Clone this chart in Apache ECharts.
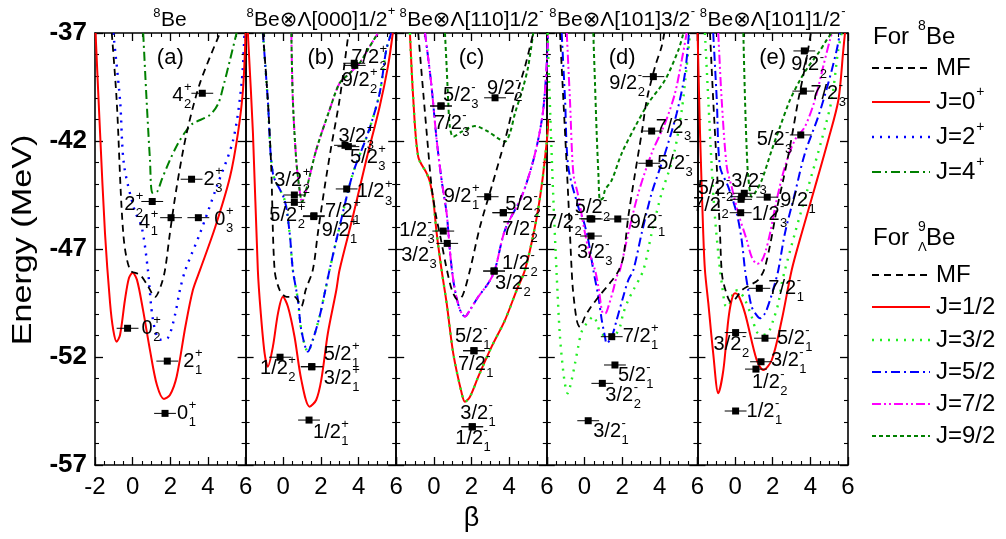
<!DOCTYPE html>
<html><head><meta charset="utf-8">
<script src="https://cdn.jsdelivr.net/npm/echarts@6/dist/echarts.min.js"></script>
<style>html,body{margin:0;padding:0;background:#fff}#c{width:1006px;height:539px}</style>
</head><body><div id="c"></div>
<script>
// ---------------- DATA (beta, energy in MeV) ----------------
const xTicks = [-2, 0, 2, 4, 6];
const yTicks = [-57, -52, -47, -42, -37];
const yName = 'Energy (MeV)';
const panelTitles = [
  ['8', 'Be', ''],
  ['8', 'Be\u2297\u039B[000]1/2', '+'],
  ['8', 'Be\u2297\u039B[110]1/2', '-'],
  ['8', 'Be\u2297\u039B[101]3/2', '-'],
  ['8', 'Be\u2297\u039B[101]1/2', '-']
];
const panelTags = ['(a)', '(b)', '(c)', '(d)', '(e)'];

// panel (a) 8Be
const aMF = [[-1.11,-37],[-0.85,-40.1],[-0.5,-46.26],[-0.14,-47.97],[0.4,-48.2],[0.8,-48.7],[1.19,-49.22],[1.5,-48.7],[1.72,-47.97],[1.98,-46.26],[2.34,-44.13],[2.87,-41.63],[3.58,-39.31],[4.64,-37]];
const aJ0 = [[-1.97,-37],[-1.73,-41.63],[-1.47,-46.26],[-1.2,-49.5],[-1.03,-50.75],[-0.85,-51.29],[-0.67,-50.98],[-0.41,-49.36],[-0.2,-48.35],[0,-48.1],[0.23,-48.43],[0.55,-49.82],[0.92,-51.68],[1.29,-53.3],[1.66,-53.94],[1.98,-53.76],[2.34,-52.9],[2.8,-50.6],[3.2,-48.9],[3.58,-47.97],[4.37,-46.03],[5.17,-43.67],[5.6,-41.6],[5.86,-39.64],[6.0,-37]];
const aJ2 = [[-1.03,-37],[-0.67,-40.1],[-0.46,-43.1],[0.1,-45.2],[0.48,-45.98],[0.81,-47.97],[1.08,-50.29],[1.45,-51.2],[1.88,-51.1],[2.25,-50.05],[2.51,-48.9],[2.8,-47.97],[3.58,-46.27],[4.46,-44.13],[5.34,-41.95],[5.79,-39.31],[5.94,-37]];
const aJ4 = [[0.56,-37],[0.74,-40.1],[0.92,-42.88],[1.05,-44.4],[1.3,-44.35],[1.54,-43.8],[1.98,-42.88],[2.42,-42.1],[2.87,-41.49],[3.22,-41.18],[4.1,-40.8],[4.55,-40.26],[4.81,-39.49],[5.17,-38.25],[5.52,-37]];
// levels: [beta, E, J, index, parity]
const aLevels = [[3.7,-39.79,'4','2','+'],[3.13,-43.77,'2','3','+'],[1.04,-44.8,'2','2','+'],[2.04,-45.55,'4','1','+'],[3.49,-45.55,'0','3','+'],[-0.27,-50.67,'0','2','+'],[1.84,-52.19,'2','1','+'],[1.72,-54.61,'0','1','+']];

// panel (b) 8Be x Lambda[000]1/2+
const bMF = [[-1.08,-37],[-0.82,-40.1],[-0.64,-43.19],[-0.46,-47.97],[-0.19,-48.9],[0.18,-49.22],[0.6,-49.22],[0.96,-49.64],[1.19,-48.9],[1.57,-47.97],[1.84,-46.26],[2.2,-44.13],[2.55,-42.26],[2.99,-40.1],[3.35,-37.79],[3.47,-37]];
const bJ1 = [[-1.88,-37],[-1.61,-41.63],[-1.35,-47.97],[-1.2,-49.9],[-0.99,-51.83],[-0.82,-52.45],[-0.55,-51.52],[-0.28,-49.98],[-0.02,-49.21],[0.25,-49.67],[0.6,-51.06],[0.96,-53.06],[1.4,-54.3],[1.75,-53.99],[2.02,-53.06],[2.37,-50.9],[2.82,-48.9],[2.99,-47.97],[3.7,-45.5],[4.41,-42.88],[5.12,-40.41],[5.56,-38.56],[5.82,-37]];
const bJ3J5 = [[-1.08,-37],[-0.82,-40.1],[-0.55,-43.5],[0.07,-44.73],[0.34,-46.26],[0.51,-47.97],[0.78,-49.36],[0.96,-50.75],[1.31,-51.75],[1.57,-51.21],[1.93,-50.13],[2.2,-49.05],[2.46,-47.97],[2.99,-45.97],[3.7,-43.5],[4.5,-41.64],[5.12,-39.79],[5.47,-37.79],[5.74,-37]];
const bJ7J9 = [[0.43,-37],[0.51,-40.1],[0.69,-42.88],[0.87,-44.27],[1.0,-44.82],[1.22,-44.27],[1.75,-42.42],[2.46,-40.56],[2.99,-39.33],[3.52,-38.87],[4.05,-38.4],[4.59,-37.63],[5.03,-37]];
const bLevels = [[3.77,-38.4,'7/2','2','+'],[3.8,-38.5,'9/2','2','+'],[3.46,-42.26,'3/2','3','+'],[3.28,-42.2,'5/2','3','+'],[3.37,-44.22,'1/2','3','+'],[0.59,-44.5,'3/2','2','+'],[0.59,-44.84,'5/2','2','+'],[1.63,-45.46,'7/2','1','+'],[1.62,-45.5,'9/2','1','+'],[1.51,-52.45,'5/2','1','+'],[1.52,-52.45,'3/2','1','+'],[-0.17,-52.01,'1/2','2','+'],[1.37,-54.92,'1/2','1','+']];

// panel (c) 8Be x Lambda[110]1/2-
const cMF = [[-0.83,-37],[-0.56,-39.79],[-0.3,-42.42],[-0.12,-44.12],[0.11,-45.43],[0.38,-46.58],[0.64,-47.74],[0.96,-48.9],[1.28,-49.36],[1.54,-49.13],[1.92,-47.97],[2.45,-45.97],[3.07,-44.12],[3.78,-41.95],[4.31,-40.1],[4.84,-38.56],[5.28,-37]];
const cJ1J3 = [[-1.27,-37],[-1.09,-40.1],[-0.83,-42.73],[-0.38,-43.5],[-0.21,-43.89],[-0.03,-44.73],[0.15,-46.27],[0.41,-47.97],[0.68,-49.51],[1.03,-51.83],[1.48,-53.68],[1.65,-54.07],[1.92,-53.84],[2.36,-52.91],[3.07,-51.52],[3.78,-50.29],[4.4,-48.9],[4.84,-47.97],[5.37,-45.97],[5.72,-44.12],[5.99,-42.1],[6.1,-41.0]];
const cJ5J7 = [[-0.47,-37],[-0.15,-39.25],[0.15,-41.95],[0.41,-43.8],[0.68,-45.35],[0.85,-47.05],[0.96,-47.97],[1.12,-48.9],[1.39,-49.82],[1.65,-50.13],[1.92,-49.82],[2.36,-49.21],[2.89,-48.59],[3.24,-47.97],[3.78,-46.12],[4.66,-44.58],[5.19,-43.19],[5.54,-41.95],[5.81,-40.56],[5.99,-38.56],[6.07,-37]];
const cJ9 = [[0.59,-37],[0.68,-38.56],[0.76,-40.1],[0.85,-41.34],[1.03,-41.8],[1.48,-41.57],[2.18,-41.31],[2.89,-41.57],[3.42,-41.88],[3.78,-42.03],[4.04,-41.64],[4.31,-40.72],[4.75,-39.49],[5.01,-38.56],[5.28,-37]];
const cLevels = [[0.38,-40.38,'5/2','3','-'],[0.38,-40.38,'7/2','3','-'],[3.25,-40.0,'9/2','2','-'],[2.86,-44.58,'9/2','1','+'],[3.69,-45.32,'5/2','2','-'],[3.69,-45.32,'7/2','2','-'],[0.5,-46.17,'1/2','3','-'],[0.71,-46.74,'3/2','3','-'],[3.2,-48.02,'1/2','2','-'],[3.2,-48.02,'3/2','2','-'],[2.13,-51.71,'5/2','1','-'],[2.13,-51.71,'7/2','1','-'],[2.04,-55.23,'3/2','1','-'],[2.04,-55.23,'1/2','1','-']];

// panel (d) 8Be x Lambda[101]3/2-
const dMF = [[-1.3,-37],[-1.12,-40.1],[-0.94,-43.19],[-0.77,-46.27],[-0.68,-47.97],[-0.61,-48.9],[-0.41,-50.29],[-0.24,-50.61],[0.03,-50.13],[0.29,-49.75],[0.83,-49.13],[1.36,-48.57],[1.78,-48.06],[2.06,-47.4],[2.33,-45.5],[2.69,-43.49],[3.04,-41.64],[3.31,-40.1],[3.75,-38.56],[4.1,-37.63],[4.24,-37]];
const dJ3 = [[-1.96,-37],[-1.88,-39.18],[-1.67,-44.27],[-1.47,-48.28],[-1.3,-51.06],[-1.07,-53.06],[-0.89,-53.68],[-0.68,-53.06],[-0.5,-52.29],[-0.33,-51.52],[-0.15,-50.83],[0.12,-50.44],[0.47,-50.13],[0.83,-50.83],[1.09,-51.03],[1.41,-51.07],[1.71,-50.9],[1.89,-50.6],[2.06,-49.98],[2.33,-49.36],[2.6,-48.9],[3.13,-47.97],[3.57,-46.27],[4.1,-44.42],[4.72,-42.73],[5.17,-40.56],[5.43,-38.56],[5.61,-37]];
const dJ5 = [[-1.21,-37],[-1.03,-40.1],[-0.86,-43.19],[-0.33,-45.04],[-0.06,-45.66],[0.2,-46.58],[0.47,-47.97],[0.74,-49.21],[0.92,-50.29],[1.09,-51.06],[1.18,-51.37],[1.45,-51.06],[1.71,-50.29],[2.06,-49.21],[2.33,-48.44],[2.6,-47.97],[3.04,-46.27],[3.57,-44.42],[4.28,-42.57],[4.9,-40.72],[5.34,-38.87],[5.55,-37]];
const dJ7 = [[-0.94,-37],[-0.77,-40.1],[-0.59,-43.5],[-0.34,-44.5],[0.03,-46.27],[0.29,-47.28],[0.56,-47.97],[0.74,-48.74],[1.0,-49.98],[1.14,-49.96],[1.27,-49.67],[1.53,-48.9],[1.71,-48.28],[1.89,-47.97],[2.33,-46.27],[2.86,-44.42],[3.57,-42.57],[4.28,-41.18],[4.81,-39.79],[5.17,-38.25],[5.43,-37]];
const dJ9 = [[0.47,-37],[0.56,-39.33],[0.65,-41.64],[0.74,-43.5],[0.83,-44.73],[0.99,-44.64],[1.09,-44.27],[1.45,-43.81],[1.98,-42.57],[2.69,-41.34],[3.39,-40.25],[4.28,-39.18],[4.99,-37.79],[5.26,-37]];
const dLevels = [[3.66,-39.02,'9/2','2','-'],[3.57,-41.54,'7/2','3','-'],[3.44,-43.03,'5/2','3','-'],[0.39,-45.61,'5/2','2','-'],[0.3,-45.6,'7/2','2','-'],[1.77,-45.61,'9/2','1','-'],[0.35,-46.4,'3/2','3','-'],[1.45,-51.06,'7/2','1','+'],[1.62,-52.37,'5/2','1','-'],[0.95,-53.22,'3/2','2','-'],[0.2,-54.95,'3/2','1','-']];

// panel (e) 8Be x Lambda[101]1/2-
const eMF = [[-1.33,-37],[-1.16,-40.1],[-0.97,-43.19],[-0.8,-46.27],[-0.69,-48.2],[-0.48,-48.99],[-0.22,-49.45],[0.05,-49.27],[0.37,-48.9],[0.79,-48.67],[1.22,-48.44],[1.54,-47.97],[1.86,-46.82],[2.21,-45.19],[2.56,-43.8],[2.92,-42.26],[3.36,-40.1],[3.72,-38.56],[4.03,-37]];
const eJ1 = [[-1.99,-37],[-1.86,-41.64],[-1.69,-46.27],[-1.6,-47.97],[-1.42,-49.51],[-1.16,-51.83],[-0.89,-53.68],[-0.62,-52.6],[-0.36,-50.29],[-0.18,-49.36],[0.0,-49.05],[0.17,-49.13],[0.53,-49.98],[1.15,-52.14],[1.5,-52.6],[1.95,-52.14],[2.48,-50.29],[3.01,-47.97],[3.54,-46.27],[4.25,-44.12],[4.95,-41.95],[5.49,-40.1],[5.75,-37.79],[5.84,-37]];
const eJ3 = [[-1.6,-37],[-1.42,-40.1],[-1.24,-43.19],[-1.07,-45.5],[-0.8,-47.97],[-0.69,-48.67],[-0.53,-49.59],[-0.37,-49.69],[-0.22,-49.36],[0.0,-48.9],[0.26,-48.99],[0.53,-49.36],[0.88,-50.13],[1.15,-50.83],[1.42,-50.98],[1.75,-50.89],[2.03,-50.29],[2.3,-49.51],[2.48,-48.59],[2.65,-47.97],[3.18,-46.27],[3.89,-44.12],[4.6,-41.95],[5.13,-40.1],[5.48,-37.79],[5.66,-37]];
const eJ5 = [[-1.16,-37],[-0.97,-40.1],[-0.8,-43.19],[-0.36,-44.12],[0.09,-45.35],[0.35,-46.58],[0.53,-47.97],[0.7,-48.9],[0.88,-49.67],[1.06,-49.96],[1.33,-50.21],[1.59,-49.98],[1.86,-49.36],[2.12,-48.59],[2.3,-47.97],[2.65,-46.27],[3.18,-44.42],[3.71,-42.57],[4.42,-40.87],[4.95,-39.33],[5.4,-37.79],[5.57,-37]];
const eJ7 = [[-0.89,-37],[-0.71,-40.1],[-0.44,-43.19],[-0.18,-44.12],[0.17,-45.35],[0.62,-46.58],[0.88,-47.36],[1.17,-47.69],[1.38,-47.6],[1.59,-47.2],[1.86,-46.27],[2.21,-44.73],[2.65,-43.19],[3.18,-41.95],[3.71,-41.34],[4.24,-40.1],[4.68,-38.56],[5.04,-37.32],[5.15,-37]];
const eJ9 = [[0.44,-37],[0.53,-40.1],[0.62,-42.42],[0.7,-43.65],[0.88,-44.58],[1.06,-44.41],[1.42,-43.81],[1.95,-42.42],[2.39,-41.34],[2.92,-40.1],[3.45,-39.18],[3.89,-38.56],[4.42,-37.94],[4.87,-37.32],[5.13,-37]];
const eLevels = [[3.68,-37.83,'9/2','2','-'],[3.63,-39.69,'7/2','3','-'],[3.49,-41.72,'5/2','3','-'],[0.35,-44.58,'5/2','2','-'],[0.49,-44.42,'3/2','3','-'],[0.32,-44.7,'7/2','2','-'],[1.71,-44.6,'9/2','1','-'],[0.3,-45.32,'1/2','3','-'],[1.29,-48.82,'7/2','1','-'],[0.03,-50.87,'3/2','2','-'],[1.59,-51.13,'5/2','1','-'],[1.38,-52.22,'3/2','1','-'],[1.11,-52.56,'1/2','2','-'],[0.03,-54.5,'1/2','1','-']];

// ---------------- LAYOUT (label offsets in px, not data) ----------------
const aOffs = [[-30,2],[12,0],[-28,3],[-32,5],[16,2],[14,0],[16,0],[12,0]];
const bOffs = [[-3,-6],[-13,15],[-10,-10],[5,12],[10,3],[-20,-15],[-25,13],[11,-4],[8,14],[12,-12],[12,12],[-20,11],[4,12]];
const cOffs = [[2,-11],[-7,17],[-8,-9],[-44,0],[2,-8],[-1,17],[-44,-1],[-46,12],[8,-8],[1,12],[-19,-14],[-16,14],[-12,-13],[-17,12]];
const dOffs = [[-44,7],[4,-4],[8,0],[-17,-11],[-44,4],[12,4],[-14,16],[11,0],[3,10],[3,12],[5,11]];
const eOffs = [[-13,14],[7,2],[-44,5],[-44,-8],[-13,-12],[-48,6],[13,3],[11,2],[9,0],[-22,12],[12,0],[10,-1],[-4,13],[11,0]];

const FONT = '"Liberation Sans", Arial, "DejaVu Sans", sans-serif';
const mctx = document.createElement('canvas').getContext('2d');
function tw(s, size) { mctx.font = size + 'px ' + FONT; return mctx.measureText(s).width; }

const STY = {
  MF:  {color:'#000000', width:1.8, type:[7,5]},
  J0:  {color:'#ff0000', width:2, type:'solid'},
  J2:  {color:'#0000ff', width:2.4, type:[2,6]},
  J4:  {color:'#008000', width:2, type:[9,4,2,4]},
  J1:  {color:'#ff0000', width:2, type:'solid'},
  J3:  {color:'#22ee22', width:2.4, type:[2,6]},
  J5:  {color:'#0000ff', width:2, type:[9,4,2,4]},
  J7:  {color:'#ff00ff', width:2, type:[9,3,2,3,2,3]},
  J9:  {color:'#008000', width:2, type:[4,3]}
};

const LVF = 20, SUBF = 13;
const GL = 95, GW = 150.6, GT = 33, GH = 432, HALF = 0.58;
const grids = [], xAxes = [], yAxes = [], series = [];
for (let i = 0; i < 5; i++) {
  grids.push({left: GL + GW * i, top: GT, width: GW, height: GH, outerBoundsMode: 'none'});
  const tick = {show:true, inside:true, length:8, lineStyle:{color:'#000', width:1.3}};
  const minor = {show:true, length:4, lineStyle:{color:'#000', width:1.1}};
  const line = {show:true, onZero:false, lineStyle:{color:'#000', width:1.6}};
  xAxes.push({type:'value', gridIndex:i, min:xTicks[0], max:xTicks[xTicks.length-1], interval:2, position:'bottom',
    axisLine:line, axisTick:tick, minorTick:Object.assign({splitNumber:4}, minor), splitLine:{show:false}, minorSplitLine:{show:false},
    axisLabel:{show:true, color:'#000', fontSize:24, fontFamily:FONT, margin:10,
      formatter: v => (i > 0 && v === -2) ? '' : String(v)},
    name: i === 2 ? '\u03B2' : '', nameLocation:'middle', nameGap:40, nameTextStyle:{fontSize:27, color:'#000', fontFamily:FONT}});
  xAxes.push({type:'value', gridIndex:i, min:-2, max:6, interval:2, position:'top',
    axisLine:line, axisTick:tick, minorTick:Object.assign({splitNumber:4}, minor), splitLine:{show:false}, axisLabel:{show:false}});
  yAxes.push({type:'value', gridIndex:i, min:yTicks[0], max:yTicks[yTicks.length-1], interval:5, position:'left',
    axisLine:line, axisTick:tick, minorTick:Object.assign({splitNumber:5}, minor), splitLine:{show:false}, minorSplitLine:{show:false},
    axisLabel:{show:i === 0, color:'#000', fontSize:26, fontWeight:'bold', fontFamily:FONT, margin:8}});
  yAxes.push({type:'value', gridIndex:i, min:-57, max:-37, interval:5, position:'right',
    axisLine:line, axisTick:tick, minorTick:Object.assign({splitNumber:5}, minor), splitLine:{show:false}, axisLabel:{show:false}});
}

function curve(gi, data, key, z) {
  const s = STY[key];
  series.push({type:'line', xAxisIndex:gi*2, yAxisIndex:gi*2, data:data, symbol:'none', showSymbol:false,
    smooth:0.3, clip:true, silent:true, z:z || 2,
    lineStyle:{color:s.color, width:s.width, type:s.type, cap:'butt'}});
}
function levels(gi, lv, offs) {
  series.push({type:'custom', xAxisIndex:gi*2, yAxisIndex:gi*2, z:20, clip:false, silent:true,
    data: lv.map((l, k) => [l[0], l[1], k]),
    renderItem: function (params, api) {
      const k = api.value(2), L = lv[k], o = offs[k];
      const c = api.coord([L[0], L[1]]);
      const a = api.coord([L[0] - HALF, L[1]]), b = api.coord([L[0] + HALF, L[1]]);
      const mx = c[0] + o[0], my = c[1] + o[1];
      const w = tw(L[2], LVF);
      const ts = (t, x, y, fs) => ({type:'text', x:x, y:y, style:{text:t, fontSize:fs, fontFamily:FONT, fill:'#000', align:'left', verticalAlign:'middle'}});
      return {type:'group', children:[
        {type:'line', shape:{x1:a[0], y1:c[1], x2:b[0], y2:c[1]}, style:{stroke:'#000', lineWidth:1}},
        {type:'rect', shape:{x:c[0]-3.5, y:c[1]-3.5, width:7, height:7}, style:{fill:'#000'}},
        ts(L[2], mx, my, LVF),
        ts(L[4], mx + w + 0.5, my - 8, SUBF),
        ts(L[3], mx + w + 0.5, my + 9, SUBF)
      ]};
    }});
}

curve(0, aJ2, 'J2'); curve(0, aJ4, 'J4'); curve(0, aJ0, 'J0'); curve(0, aMF, 'MF', 3);
levels(0, aLevels, aOffs);
curve(1, bJ3J5, 'J3'); curve(1, bJ3J5, 'J5'); curve(1, bJ7J9, 'J7'); curve(1, bJ7J9, 'J9'); curve(1, bJ1, 'J1'); curve(1, bMF, 'MF', 3);
levels(1, bLevels, bOffs);
curve(2, cJ1J3, 'J1'); curve(2, cJ1J3, 'J3'); curve(2, cJ5J7, 'J5'); curve(2, cJ5J7, 'J7'); curve(2, cJ9, 'J9'); curve(2, cMF, 'MF', 3);
levels(2, cLevels, cOffs);
curve(3, dJ3, 'J3'); curve(3, dJ5, 'J5'); curve(3, dJ7, 'J7'); curve(3, dJ9, 'J9'); curve(3, dMF, 'MF', 3);
levels(3, dLevels, dOffs);
curve(4, eJ3, 'J3'); curve(4, eJ5, 'J5'); curve(4, eJ7, 'J7'); curve(4, eJ9, 'J9'); curve(4, eJ1, 'J1'); curve(4, eMF, 'MF', 3);
levels(4, eLevels, eOffs);

// ---------------- graphic text: titles, tags, legend, y-name ----------------
const G = [];
function txt(t, x, y, fs, align) {
  G.push({type:'text', x:x, y:y, z:50, style:{text:t, fontSize:fs, fontFamily:FONT, fill:'#000', align:align || 'left', verticalAlign:'middle'}});
}
G.push({type:'text', x:23, y:240, rotation:Math.PI/2, scaleX:1.22, z:50,
  style:{text:yName, fontSize:28, fontFamily:FONT, fill:'#000', align:'center', verticalAlign:'middle'}});
const TF = 21, TS = 13;
for (let i = 0; i < 5; i++) {
  const [sup, main, tail] = panelTitles[i];
  const wS = tw(sup, TS), wM = tw(main, TF), wT = tail ? tw(tail, TS) : 0;
  const cx = GL + GW * i + GW / 2;
  let x = cx - (wS + wM + wT + 1) / 2;
  txt(sup, x, 13, TS); x += wS + 0.5;
  txt(main, x, 20, TF); x += wM + 0.5;
  if (tail) txt(tail, x, 11, TS);
  txt(panelTags[i], GL + GW * i + GW / 2, 58, 22, 'center');
}
// legend
const LX1 = 872, LX2 = 930, LT = 936, LF = 24;
function legLine(y, key) {
  const s = STY[key];
  G.push({type:'line', z:50, shape:{x1:LX1, y1:y, x2:LX2, y2:y}, style:{stroke:s.color, lineWidth:s.width, lineDash:s.type === 'solid' ? null : s.type}});
}
txt('For', 873, 37, LF); txt('8', 918, 26, 14); txt('Be', 926, 37, LF);
legLine(68, 'MF'); txt('MF', LT, 68, LF);
legLine(102, 'J0'); txt('J=0', LT, 102, LF); txt('+', LT + tw('J=0', LF) + 1, 92, 14);
legLine(137, 'J2'); txt('J=2', LT, 137, LF); txt('+', LT + tw('J=2', LF) + 1, 127, 14);
legLine(172, 'J4'); txt('J=4', LT, 172, LF); txt('+', LT + tw('J=4', LF) + 1, 162, 14);
txt('For', 873, 238, LF); txt('9', 918, 227, 14); txt('\u039B', 918, 247, 13); txt('Be', 926, 238, LF);
legLine(275, 'MF'); txt('MF', LT, 275, LF);
legLine(307, 'J1'); txt('J=1/2', LT, 307, LF);
legLine(340, 'J3'); txt('J=3/2', LT, 340, LF);
legLine(372, 'J5'); txt('J=5/2', LT, 372, LF);
legLine(404, 'J7'); txt('J=7/2', LT, 404, LF);
legLine(436, 'J9'); txt('J=9/2', LT, 436, LF);

const chart = echarts.init(document.getElementById('c'), null, {renderer:'canvas'});
chart.setOption({animation:false, backgroundColor:'#fff', grid:grids, xAxis:xAxes, yAxis:yAxes, series:series, graphic:G});
</script></body></html>
